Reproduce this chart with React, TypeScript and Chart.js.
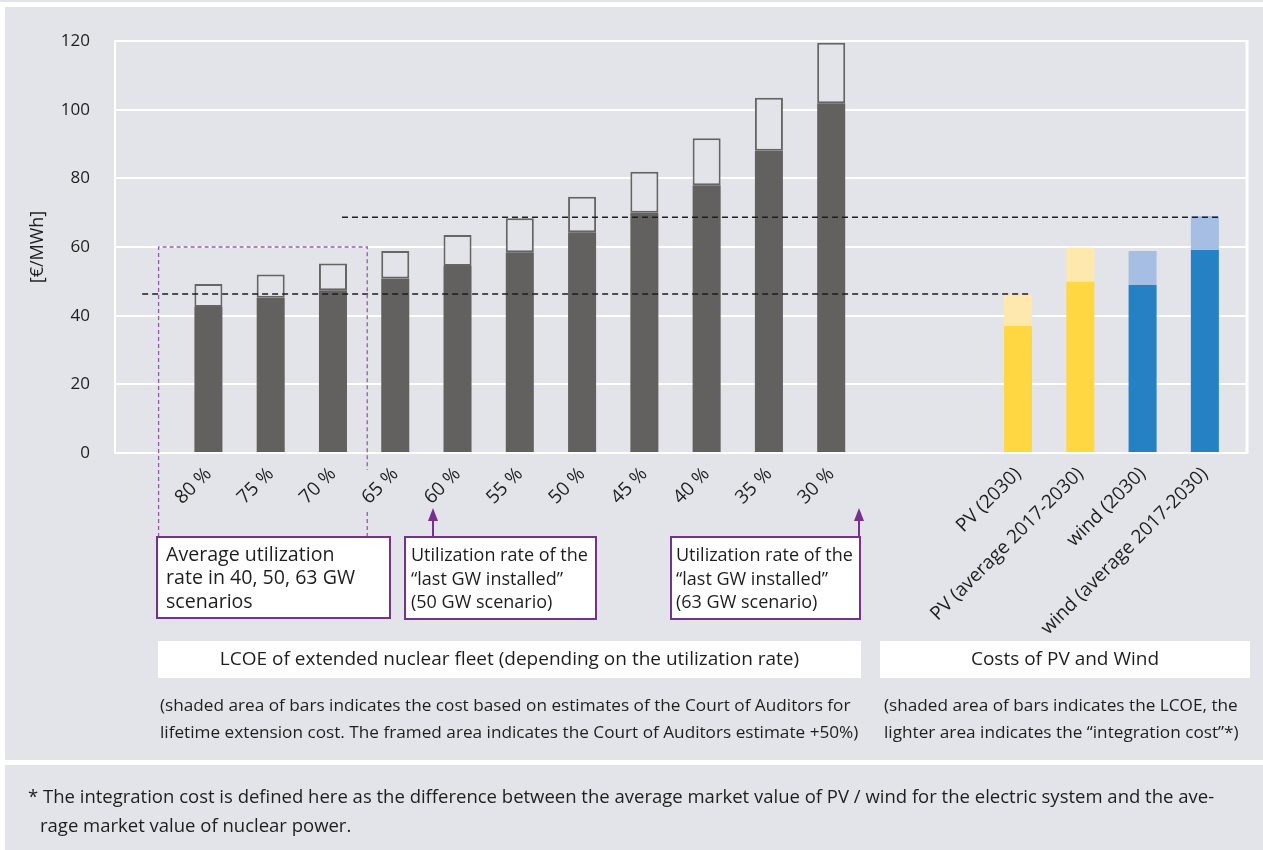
import React, { useEffect, useRef } from 'react';
import { Chart, registerables } from 'chart.js';

Chart.register(...registerables);

// ---------- data ----------
const nuclearLabels = ['80 %', '75 %', '70 %', '65 %', '60 %', '55 %', '50 %', '45 %', '40 %', '35 %', '30 %'];
const nuclearBase = [42.5, 45.2, 47.4, 50.8, 54.5, 58.5, 64.3, 70.0, 78.0, 88.0, 101.9];
const nuclearTotal = [49.2, 52.0, 55.2, 58.8, 63.5, 68.4, 74.6, 81.9, 91.7, 103.5, 119.5];

const renewLabels = ['PV (2030)', 'PV (average 2017-2030)', 'wind (2030)', 'wind (average 2017-2030)'];
const renewLcoe = [37.0, 49.9, 48.9, 59.1];
const renewTotal = [46.2, 59.8, 58.8, 69.0];

const yTicks = [0, 20, 40, 60, 80, 100, 120];

// reference levels (dashed lines): value, first category index, last category index
const dashLevels = [46.3, 68.7];
const dashFrom = [0, 3];
const dashTo = [14, 17];
const frameTop = 60;

const categories = ['', ...nuclearLabels, '', '', ...renewLabels];

const FONT = '"Open Sans", sans-serif';
const BG = '#e3e4e9';
const PURPLE = '#74318f';
const TEXT = '#1e1e1e';

const pad = (vals: (number | null)[], before: number, after: number) => [
  ...Array(before).fill(null),
  ...vals,
  ...Array(after).fill(null),
];

function drawLines(ctx: CanvasRenderingContext2D, lines: string[], x: number, y0: number, dy: number) {
  lines.forEach((l, i) => ctx.fillText(l, x, y0 + i * dy));
}

const decorPlugin = {
  id: 'decor',
  beforeDraw(chart: any) {
    const ctx: CanvasRenderingContext2D = chart.ctx;
    ctx.save();
    ctx.fillStyle = '#ffffff';
    ctx.fillRect(0, 0, chart.width, chart.height);
    ctx.fillStyle = BG;
    ctx.fillRect(0, 0, chart.width, 2);
    ctx.fillRect(5, 7, chart.width - 5, 753);
    ctx.fillRect(5, 765, chart.width - 5, 85);
    ctx.restore();
  },
  beforeDatasetsDraw(chart: any) {
    const ctx: CanvasRenderingContext2D = chart.ctx;
    const { chartArea } = chart;
    const y = chart.scales.y;
    const ext = 11;
    ctx.save();
    ctx.strokeStyle = '#ffffff';
    ctx.lineWidth = 2;
    yTicks.forEach((v) => {
      const py = Math.round(y.getPixelForValue(v));
      ctx.beginPath();
      ctx.moveTo(chartArea.right - 1, py);
      ctx.lineTo(chartArea.right + ext, py);
      ctx.stroke();
    });
    ctx.lineWidth = 3;
    ctx.beginPath();
    ctx.moveTo(chartArea.right + ext, y.getPixelForValue(120) - 1);
    ctx.lineTo(chartArea.right + ext, y.getPixelForValue(0) + 1);
    ctx.stroke();
    ctx.restore();
  },
  afterDatasetsDraw(chart: any) {
    const ctx: CanvasRenderingContext2D = chart.ctx;
    const x = chart.scales.x;
    const y = chart.scales.y;
    const step = x.getPixelForValue(1) - x.getPixelForValue(0);
    const half = step * 0.45 / 2;
    ctx.save();

    // dashed reference lines
    ctx.strokeStyle = TEXT;
    ctx.lineWidth = 1.5;
    ctx.setLineDash([6, 4]);
    dashLevels.forEach((v, i) => {
      const py = y.getPixelForValue(v);
      const x0 = i === 0 ? x.getPixelForValue(dashFrom[i]) - 4 : x.getPixelForValue(dashFrom[i]) + 9;
      const x1 = x.getPixelForValue(dashTo[i]) + half;
      ctx.beginPath();
      ctx.moveTo(x0, py);
      ctx.lineTo(x1, py);
      ctx.stroke();
    });

    // purple dashed frame
    const fl = x.getPixelForValue(1) - step * 0.8;
    const fr = x.getPixelForValue(3) + step * 0.55;
    const ft = y.getPixelForValue(frameTop);
    ctx.strokeStyle = '#955ab0';
    ctx.lineWidth = 1.3;
    ctx.setLineDash([4, 3]);
    ctx.beginPath();
    ctx.moveTo(fl, 537);
    ctx.lineTo(fl, ft);
    ctx.lineTo(fr, ft);
    ctx.lineTo(fr, 470);
    ctx.moveTo(fr, 512);
    ctx.lineTo(fr, 537);
    ctx.stroke();
    ctx.setLineDash([]);

    // annotation boxes
    const boxes = [
      { x: 157, y: 537, w: 233, h: 81 },
      { x: 405, y: 537, w: 191, h: 82 },
      { x: 671, y: 537, w: 189, h: 82 },
    ];
    boxes.forEach((b) => {
      ctx.fillStyle = '#ffffff';
      ctx.fillRect(b.x, b.y, b.w, b.h);
      ctx.strokeStyle = PURPLE;
      ctx.lineWidth = 2;
      ctx.strokeRect(b.x, b.y, b.w, b.h);
    });

    // arrows
    [433, 859].forEach((ax) => {
      ctx.strokeStyle = PURPLE;
      ctx.fillStyle = PURPLE;
      ctx.lineWidth = 2;
      ctx.beginPath();
      ctx.moveTo(ax, 537);
      ctx.lineTo(ax, 518);
      ctx.stroke();
      ctx.beginPath();
      ctx.moveTo(ax, 508);
      ctx.lineTo(ax - 5, 521);
      ctx.lineTo(ax + 5, 521);
      ctx.closePath();
      ctx.fill();
    });

    ctx.fillStyle = TEXT;
    ctx.textBaseline = 'middle';
    ctx.textAlign = 'left';
    ctx.font = `19.6px ${FONT}`;
    drawLines(ctx, ['Average utilization', 'rate in 40, 50, 63 GW', 'scenarios'], 166, 555, 23.5);
    ctx.font = `18px ${FONT}`;
    drawLines(ctx, ['Utilization rate of the', '\u201Clast GW installed\u201D', '(50 GW scenario)'], 411, 556, 23.5);
    drawLines(ctx, ['Utilization rate of the', '\u201Clast GW installed\u201D', '(63 GW scenario)'], 676, 556, 23.5);

    // category bands
    ctx.fillStyle = '#ffffff';
    ctx.fillRect(158, 641, 703, 37);
    ctx.fillRect(880, 641, 370, 37);
    ctx.fillStyle = TEXT;
    ctx.textAlign = 'center';
    ctx.font = `19px ${FONT}`;
    ctx.fillText('LCOE of extended nuclear fleet (depending on the utilization rate)', 509.5, 660);
    ctx.fillText('Costs of PV and Wind', 1065, 660);

    // notes
    ctx.textAlign = 'left';
    ctx.font = `17.2px ${FONT}`;
    drawLines(ctx, [
      '(shaded area of bars indicates the cost based on estimates of the Court of Auditors for',
      'lifetime extension cost. The framed area indicates the Court of Auditors estimate +50%)',
    ], 160, 706, 27);
    drawLines(ctx, [
      '(shaded area of bars indicates the LCOE, the',
      'lighter area indicates the \u201Cintegration cost\u201D*)',
    ], 884, 706, 27);

    ctx.font = `18.5px ${FONT}`;
    ctx.fillText('* The integration cost is defined here as the difference between the average market value of PV / wind for the electric system and the ave-', 28, 798);
    ctx.fillText('rage market value of nuclear power.', 40, 827);

    // y-axis title
    ctx.save();
    ctx.translate(38, 247);
    ctx.rotate(-Math.PI / 2);
    ctx.textAlign = 'center';
    ctx.font = `18px ${FONT}`;
    ctx.fillText('[\u20AC/MWh]', 0, 0);
    ctx.restore();

    ctx.restore();
  },
};

export default function App() {
  const ref = useRef<HTMLCanvasElement | null>(null);

  useEffect(() => {
    if (!ref.current) return;
    const nBefore = 1;
    const nMid = 2;
    const chart = new Chart(ref.current, {
      type: 'bar',
      data: {
        labels: categories,
        datasets: [
          {
            label: 'Nuclear (Court of Auditors)',
            data: pad(nuclearBase, nBefore, nMid + renewLabels.length),
            backgroundColor: '#63615f',
            borderWidth: 0,
          },
          {
            label: 'Nuclear (+50%)',
            data: pad(nuclearTotal.map((t, i) => +(t - nuclearBase[i]).toFixed(2)), nBefore, nMid + renewLabels.length),
            backgroundColor: BG,
            borderColor: '#676563',
            borderWidth: 2,
            borderSkipped: false,
          },
          {
            label: 'LCOE',
            data: pad(renewLcoe, nBefore + nuclearLabels.length + nMid, 0),
            backgroundColor: categories.map((c) => (c.startsWith('PV') ? '#ffd743' : '#2680c4')),
            borderWidth: 0,
          },
          {
            label: 'Integration cost',
            data: pad(renewTotal.map((t, i) => +(t - renewLcoe[i]).toFixed(2)), nBefore + nuclearLabels.length + nMid, 0),
            backgroundColor: categories.map((c) => (c.startsWith('PV') ? '#ffe8ae' : '#a6bee3')),
            borderWidth: 0,
          },
        ],
      },
      options: {
        responsive: false,
        animation: false,
        events: [],
        layout: { padding: { top: 41, right: 27, bottom: 0, left: 0 } },
        plugins: { legend: { display: false }, tooltip: { enabled: false } },
        datasets: { bar: { barPercentage: 0.45, categoryPercentage: 1 } },
        scales: {
          x: {
            stacked: true,
            grid: { display: false, drawTicks: false },
            border: { display: false },
            afterFit: (s: any) => { s.height = 397; },
            ticks: {
              autoSkip: false,
              minRotation: 45,
              maxRotation: 45,
              padding: 10,
              color: TEXT,
              font: { family: FONT, size: 19 },
            },
          },
          y: {
            stacked: true,
            min: 0,
            max: 120,
            afterFit: (s: any) => { s.width = 115; },
            afterBuildTicks: (s: any) => { s.ticks = yTicks.map((v) => ({ value: v })); },
            grid: { color: '#ffffff', lineWidth: 2, drawTicks: false },
            border: { display: true, color: '#ffffff', width: 2 },
            ticks: {
              padding: 25,
              color: TEXT,
              font: { family: FONT, size: 17 },
            },
          },
        },
      },
      plugins: [decorPlugin],
    } as any);
    return () => chart.destroy();
  }, []);

  return (
    <div style={{ position: 'fixed', left: 0, top: 0, width: 1263, height: 850 }}>
      <canvas ref={ref} width={1263} height={850} />
    </div>
  );
}
